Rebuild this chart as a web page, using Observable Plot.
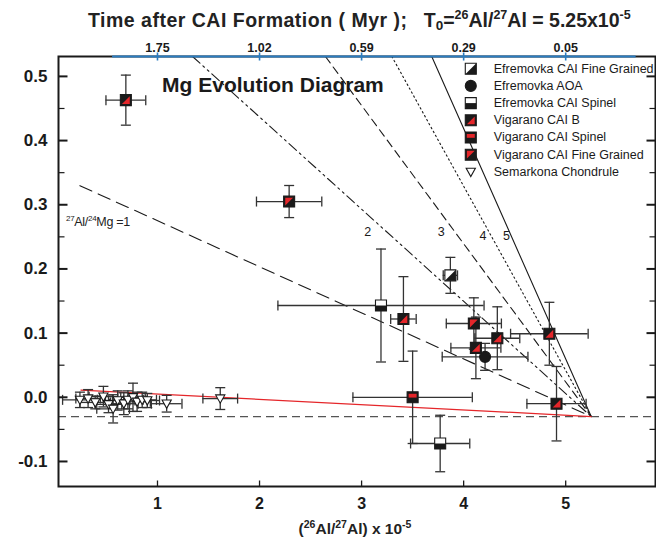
<!DOCTYPE html>
<html>
<head>
<meta charset="utf-8">
<script src="https://cdn.jsdelivr.net/npm/d3@7"></script>
<script src="https://cdn.jsdelivr.net/npm/@observablehq/plot@0.6"></script>
<style>
  body { margin: 0; background: #fff; font-family: "Liberation Sans", Arial, sans-serif; }
  #wrap { position: relative; width: 656px; height: 547px; overflow: hidden; }
  .ann { position: absolute; white-space: pre; color: #222; line-height: 1; }
  .ann sup, .ann sub { line-height: 0; }
  #title { left: 88px; top: 11px; font-size: 19.5px; font-weight: bold; }
  #title .lead { letter-spacing: 0.5px; }
  #title sup { font-size: 12.5px; vertical-align: 8px; }
  #title sub { font-size: 13.5px; vertical-align: -3px; }
  #xlabel { left: 0; width: 710px; top: 521px; text-align: center; font-size: 15.5px; font-weight: bold; }
  #xlabel sup { font-size: 10.5px; vertical-align: 6px; }
  #ratio1 { left: 66px; top: 216px; font-size: 12.5px; color: #222; letter-spacing: -0.3px; }
  #ratio1 sup { font-size: 8px; vertical-align: 5px; }
</style>
</head>
<body>
<div id="wrap">
  <div id="chart"></div>
  <div class="ann" id="title"><span class="lead">Time after CAI Formation ( Myr );</span>   T<sub>0</sub>=<sup>26</sup>Al/<sup>27</sup>Al = 5.25x10<sup>-5</sup></div>
  <div class="ann" id="xlabel">(<sup>26</sup>Al/<sup>27</sup>Al) x 10<sup>-5</sup></div>
  <div class="ann" id="ratio1"><sup>27</sup>Al/<sup>24</sup>Mg =1</div>
</div>
<script>
// ---- Measurements: each row is [26Al/27Al (x1e-5), delta26Mg*, x error, y error] ----
const efremovkaFineGrained = [[3.87, 0.190, 0.07, 0.028]];
const efremovkaAOA = [[4.21, 0.063, 0.42, 0.021]];
const efremovkaSpinel = [
  [3.19, 0.143, 1.01, 0.088],
  [3.77, -0.072, 0.29, 0.044]
];
const vigaranoB = [
  [0.69, 0.463, 0.195, 0.039],
  [3.41, 0.122, 0.125, 0.066],
  [4.33, 0.092, 0.22, 0.049],
  [4.12, 0.077, 0.245, 0.048],
  [4.84, 0.099, 0.38, 0.049],
  [4.91, -0.010, 0.29, 0.058]
];
const vigaranoSpinel = [[3.50, 0.000, 0.585, 0.072]];
const vigaranoFineGrained = [
  [2.29, 0.305, 0.32, 0.025],
  [4.10, 0.115, 0.27, 0.040]
];
const semarkonaChondrules = [
  [0.24, -0.004, 0.17, 0.012],
  [0.32, -0.002, 0.12, 0.014],
  [0.39, -0.008, 0.15, 0.010],
  [0.47, 0.001, 0.14, 0.016],
  [0.52, -0.011, 0.13, 0.013],
  [0.565, -0.018, 0.16, 0.022],
  [0.61, -0.005, 0.12, 0.015],
  [0.67, -0.010, 0.14, 0.017],
  [0.71, -0.004, 0.15, 0.014],
  [0.76, 0.000, 0.12, 0.022],
  [0.80, -0.007, 0.13, 0.015],
  [0.85, -0.004, 0.14, 0.012],
  [0.90, -0.005, 0.12, 0.011],
  [1.09, -0.010, 0.15, 0.013],
  [1.615, -0.002, 0.17, 0.017]
];

// ---- Isochron model ----
const T0 = 5.25;            // initial 26Al/27Al (x1e-5)
const delta0 = -0.03;       // initial delta26Mg*
const slopePerRatio = 0.0718; // per unit 27Al/24Mg and per 1e-5 of 26Al/27Al
const ratios = [1, 2, 3, 4, 5];
const ratioDashes = ["13,7", "10,4,2,4,2,4", "8,5", "1.5,3", null];
const ratioStart = 0.24;    // left end of the 27Al/24Mg = 1 line
const chondruleRatio = 0.115;
const chondruleStart = 0.25;

// ---- Axes ----
const xDomain = [0.03, 5.88];
const yDomain = [-0.139, 0.531];
const xTicks = [1, 2, 3, 4, 5];
const timeLabels = ["1.75", "1.02", "0.59", "0.29", "0.05"];
const yMajor = [-0.1, 0, 0.1, 0.2, 0.3, 0.4, 0.5];
const yMinor = [-0.05, 0.05, 0.15, 0.25, 0.35, 0.45];
const timeBar = [0.56, 5.69];

// ---- Annotations ----
const ratioLabels = ["2", "3", "4", "5"];
const ratioLabelX = [3.06, 3.78, 4.19, 4.42];
const ratioLabelY = [0.258, 0.258, 0.252, 0.252];
const diagramTitle = "Mg Evolution Diagram";
const diagramTitlePos = [1.045, 0.486];
const legendX = 4.07, legendTop = 0.512, legendStep = 0.0268;

// ---- Marker shapes ----
const sym = f => ({draw(ctx, size) { f(ctx, Math.sqrt(size / Math.PI)); }});
const SQUARE = sym((c, h) => c.rect(-h, -h, 2 * h, 2 * h));
const TRI_LR = inset => sym((c, h) => { const a = h - inset; c.moveTo(a, -a); c.lineTo(a, a); c.lineTo(-a, a); c.closePath(); });
const TRI_UL = inset => sym((c, h) => { const a = h - inset; c.moveTo(-a, -a); c.lineTo(a, -a); c.lineTo(-a, a); c.closePath(); });
const BOTTOM_HALF = sym((c, h) => c.rect(-h, 0, 2 * h, h));
const TOP_BAND = sym((c, h) => { const a = h - 1.5; c.rect(-a, -a + 0.5, 2 * a, a * 0.95); });
const TRI_DOWN = sym((c, h) => { c.moveTo(-h, -h * 0.8); c.lineTo(h, -h * 0.8); c.lineTo(0, h); c.closePath(); });
const line = (x1, y1, x2, y2) => ({draw(c) { c.moveTo(x1, y1); c.lineTo(x2, y2); }});
const V_CAP = line(0, -5, 0, 5);
const H_CAP = line(-5, 0, 5, 0);

const INK = "#1a1a1a", RED = "#e5262a";
const groups = [
  {name: "Semarkona Chondrule", rows: semarkonaChondrules, base: {symbol: TRI_DOWN, fill: "white", r: 4.6}},
  {name: "Efremovka CAI Fine Grained", rows: efremovkaFineGrained, base: {symbol: SQUARE, fill: "white"}, over: {symbol: TRI_LR(0), fill: INK}},
  {name: "Efremovka AOA", rows: efremovkaAOA, base: {symbol: "circle", fill: INK}},
  {name: "Efremovka CAI Spinel", rows: efremovkaSpinel, base: {symbol: SQUARE, fill: "white"}, over: {symbol: BOTTOM_HALF, fill: INK}},
  {name: "Vigarano CAI B", rows: vigaranoB, base: {symbol: SQUARE, fill: INK}, over: {symbol: TRI_LR(1.6), fill: RED}},
  {name: "Vigarano CAI Spinel", rows: vigaranoSpinel, base: {symbol: SQUARE, fill: INK}, over: {symbol: TOP_BAND, fill: RED}},
  {name: "Vigarano CAI Fine Grained", rows: vigaranoFineGrained, base: {symbol: SQUARE, fill: INK}, over: {symbol: TRI_UL(1.6), fill: RED}}
];
const legendOrder = ["Efremovka CAI Fine Grained", "Efremovka AOA", "Efremovka CAI Spinel",
  "Vigarano CAI B", "Vigarano CAI Spinel", "Vigarano CAI Fine Grained", "Semarkona Chondrule"];

const points = groups.flatMap(g => g.rows.map(([x, y, xe, ye]) => ({group: g.name, x, y, xe, ye})));

// isochron lines through (T0, delta0)
const iso = (r, x) => delta0 + slopePerRatio * r * (T0 - x);
const isoLines = ratios.map((r, i) => {
  const xs = Math.max(ratioStart, T0 - (yDomain[1] - delta0) / (slopePerRatio * r));
  return {dash: ratioDashes[i], pts: [{x: xs, y: iso(r, xs)}, {x: T0, y: delta0}]};
});
const chondruleLine = [chondruleStart, T0].map(x => ({x, y: iso(chondruleRatio, x)}));

function markerMarks(data, g, xAcc, yAcc) {
  const r = g.base.r ?? 5.5;
  const marks = [Plot.dot(data, {x: xAcc, y: yAcc, symbol: g.base.symbol, r, fill: g.base.fill, stroke: INK, strokeWidth: 1.1})];
  if (g.over) marks.push(Plot.dot(data, {x: xAcc, y: yAcc, symbol: g.over.symbol, r, fill: g.over.fill, stroke: "none"}));
  return marks;
}

const legendRows = legendOrder.map((name, i) => ({name, y: legendTop - i * legendStep}));

const chart = Plot.plot({
  width: 656,
  height: 547,
  marginLeft: 58,
  marginRight: 1,
  marginTop: 56,
  marginBottom: 61,
  style: {fontFamily: "'Liberation Sans', Arial, sans-serif", color: INK, background: "white"},
  x: {domain: xDomain, axis: null},
  y: {domain: yDomain, axis: null},
  marks: [
    // baseline of initial delta26Mg*
    Plot.ruleY([delta0], {stroke: "#555", strokeWidth: 1.3, strokeDasharray: "8,5"}),
    // isochrons for 27Al/24Mg = 1..5
    ...isoLines.map(l => Plot.line(l.pts, {x: "x", y: "y", stroke: INK, strokeWidth: 1.1, strokeDasharray: l.dash, clip: true})),
    Plot.line(chondruleLine, {x: "x", y: "y", stroke: RED, strokeWidth: 1.2}),
    Plot.text(ratioLabels, {x: (d, i) => ratioLabelX[i], y: (d, i) => ratioLabelY[i], text: d => d, fontSize: 12.5, fill: INK}),
    Plot.text([diagramTitle], {x: diagramTitlePos[0], y: diagramTitlePos[1], text: d => d, textAnchor: "start", fontSize: 21, fontWeight: "bold", fill: INK}),
    // error bars
    Plot.ruleY(points, {y: "y", x1: d => d.x - d.xe, x2: d => d.x + d.xe, stroke: "#333", strokeWidth: 1.3}),
    Plot.ruleX(points, {x: "x", y1: d => d.y - d.ye, y2: d => d.y + d.ye, stroke: "#333", strokeWidth: 1.3}),
    Plot.dot(points, {x: d => d.x - d.xe, y: "y", symbol: V_CAP, stroke: "#333", strokeWidth: 1.3, fill: "none"}),
    Plot.dot(points, {x: d => d.x + d.xe, y: "y", symbol: V_CAP, stroke: "#333", strokeWidth: 1.3, fill: "none"}),
    Plot.dot(points, {x: "x", y: d => d.y - d.ye, symbol: H_CAP, stroke: "#333", strokeWidth: 1.3, fill: "none"}),
    Plot.dot(points, {x: "x", y: d => d.y + d.ye, symbol: H_CAP, stroke: "#333", strokeWidth: 1.3, fill: "none"}),
    // markers
    ...groups.flatMap(g => markerMarks(points.filter(p => p.group === g.name), g, "x", "y")),
    // legend
    ...groups.flatMap(g => markerMarks(legendRows.filter(r => r.name === g.name), g, () => legendX, "y")),
    Plot.text(legendRows, {x: () => legendX, y: "y", text: "name", dx: 23, textAnchor: "start", fontSize: 12.5, fill: INK}),
    // frame and axes
    Plot.frame({stroke: INK, strokeWidth: 2}),
    Plot.ruleY([yDomain[1]], {x1: timeBar[0], x2: timeBar[1], stroke: "#2a7cc0", strokeWidth: 2.2}),
    Plot.dot(xTicks, {x: d => d, frameAnchor: "top", symbol: line(0, -4, 0, 4), stroke: "#2a7cc0", strokeWidth: 1.6}),
    Plot.text(xTicks, {x: d => d, frameAnchor: "top", text: (d, i) => timeLabels[i], dy: -13, fontSize: 12.5, fontWeight: "bold", fill: INK}),
    Plot.dot(xTicks, {x: d => d, frameAnchor: "bottom", symbol: line(0, 0, 0, -6), stroke: INK, strokeWidth: 1.3}),
    Plot.text(xTicks, {x: d => d, frameAnchor: "bottom", text: d => String(d), dy: 22, fontSize: 16, fontWeight: "bold", fill: INK}),
    Plot.dot(yMajor, {y: d => d, frameAnchor: "left", symbol: line(0, 0, 9, 0), stroke: INK, strokeWidth: 2}),
    Plot.dot(yMinor, {y: d => d, frameAnchor: "left", symbol: line(0, 0, 6, 0), stroke: INK, strokeWidth: 1.2}),
    Plot.dot(yMajor, {y: d => d, frameAnchor: "right", symbol: line(0, 0, -9, 0), stroke: INK, strokeWidth: 2}),
    Plot.dot(yMinor, {y: d => d, frameAnchor: "right", symbol: line(0, 0, -6, 0), stroke: INK, strokeWidth: 1.2}),
    Plot.text(yMajor, {y: d => d, frameAnchor: "left", text: d => d.toFixed(1), dx: -11, textAnchor: "end", fontSize: 17, fontWeight: "bold", fill: INK})
  ]
});

document.getElementById("chart").appendChild(chart);
</script>
</body>
</html>
